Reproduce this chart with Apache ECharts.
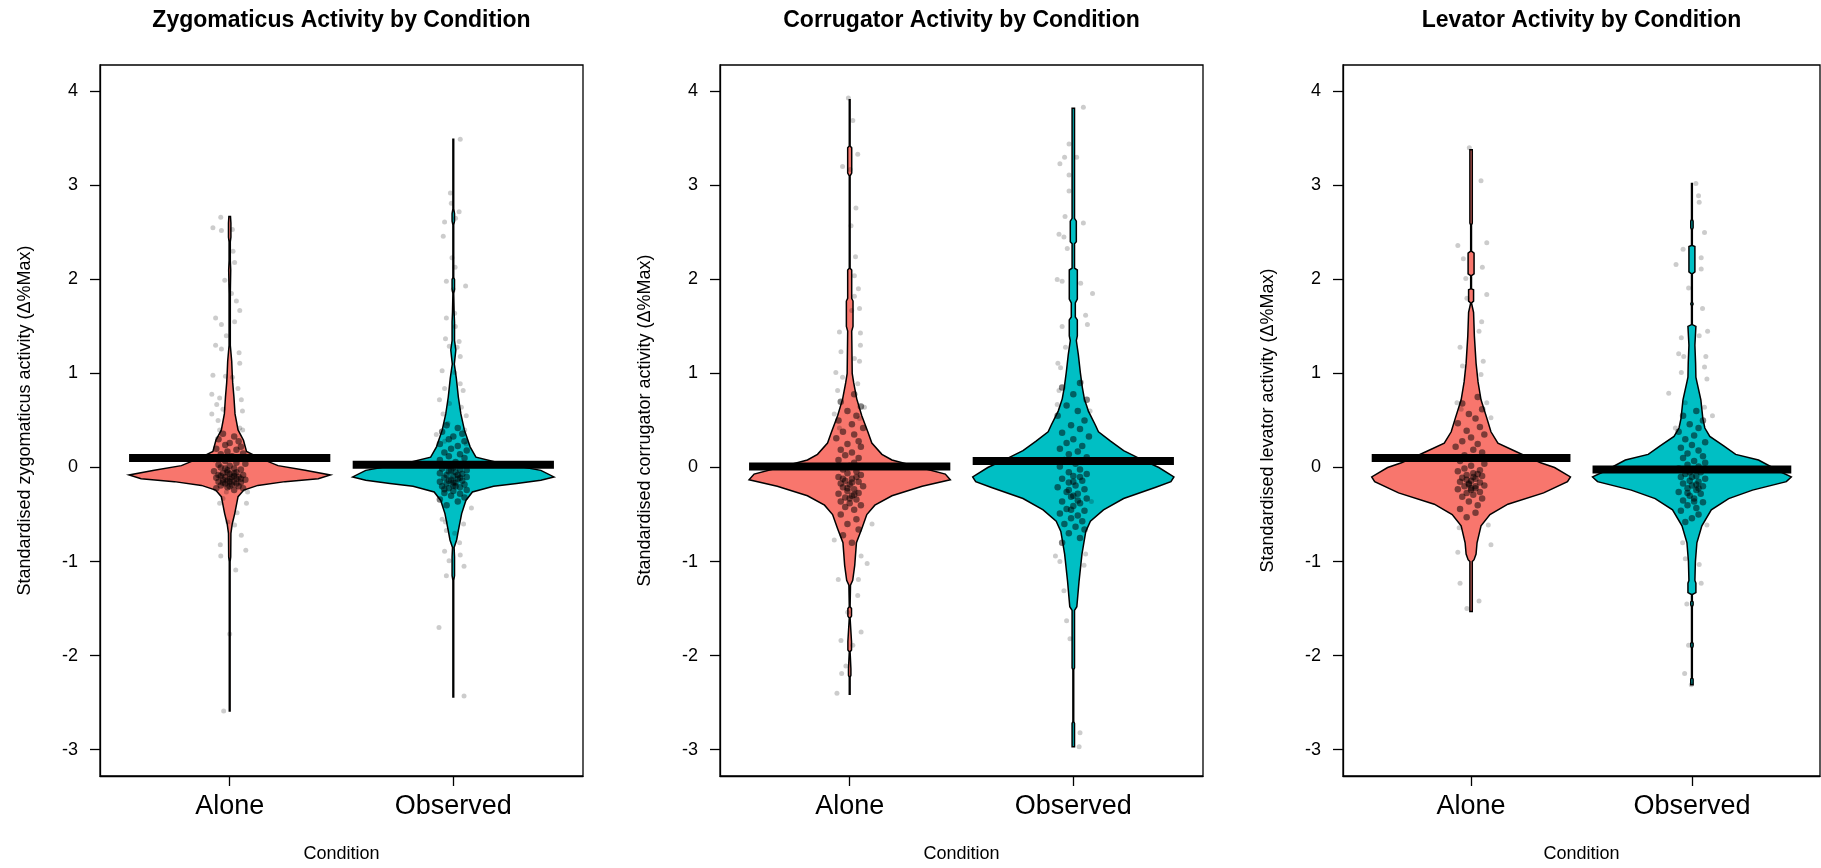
<!DOCTYPE html>
<html><head><meta charset="utf-8">
<script src="https://cdn.jsdelivr.net/npm/echarts@6/dist/echarts.min.js"></script>
<style>html,body{margin:0;padding:0;background:#fff}#c{width:1821px;height:868px}</style>
</head><body><div id="c"></div><script>
// ---------------- data ----------------
const categories = ['Alone', 'Observed'];
const panelTitles = ['Zygomaticus Activity by Condition', 'Corrugator Activity by Condition', 'Levator Activity by Condition'];
const yAxisNames = ['Standardised zygomaticus activity (\u0394%Max)', 'Standardised corrugator activity (\u0394%Max)', 'Standardised levator activity (\u0394%Max)'];
const xAxisName = 'Condition';
const yTicks = [-3, -2, -1, 0, 1, 2, 3, 4];
const xTicks = [1, 2];

// condition means (thick black bars)
const zygMeans = [0.10, 0.03];
const corrMeans = [0.01, 0.07];
const levMeans = [0.10, -0.02];

// bean density profiles: [y, relative half-width (1 = widest)]
const zygAloneBean = [[2.67,0.008],[2.6,0.012],[2.45,0.012],[2.4,0.006],[2.2,0.006],[2.1,0.01],[1.85,0.006],[1.3,0.006],[1.13,0.02],[1.0,0.025],[0.9,0.03],[0.75,0.042],[0.57,0.053],[0.4,0.083],[0.29,0.137],[0.17,0.167],[0.1,0.3],[0.02,0.48],[-0.03,0.75],[-0.08,1.0],[-0.12,0.88],[-0.15,0.55],[-0.19,0.28],[-0.24,0.14],[-0.31,0.083],[-0.49,0.05],[-0.6,0.025],[-0.7,0.012],[-0.95,0.01],[-1.0,0.004],[-2.59,0.004]];
const zygObsBean = [[3.49,0.004],[2.75,0.004],[2.7,0.012],[2.62,0.012],[2.58,0.004],[2.02,0.004],[2.0,0.012],[1.9,0.012],[1.85,0.004],[1.65,0.008],[1.55,0.012],[1.35,0.012],[1.25,0.025],[1.1,0.01],[0.95,0.03],[0.75,0.05],[0.57,0.075],[0.4,0.11],[0.22,0.167],[0.11,0.225],[0.05,0.45],[-0.03,0.87],[-0.1,1.0],[-0.135,0.87],[-0.17,0.63],[-0.2,0.4],[-0.26,0.19],[-0.35,0.125],[-0.49,0.083],[-0.67,0.05],[-0.77,0.033],[-0.85,0.008],[-0.95,0.012],[-1.15,0.012],[-1.2,0.004],[-2.44,0.004]];
const corrAloneBean = [[3.91,0.004],[3.42,0.004],[3.4,0.02],[3.13,0.02],[3.1,0.004],[2.12,0.004],[2.1,0.02],[1.8,0.02],[1.77,0.033],[1.5,0.033],[1.45,0.02],[1.0,0.025],[0.9,0.04],[0.73,0.07],[0.55,0.12],[0.38,0.18],[0.26,0.22],[0.14,0.32],[0.08,0.42],[0.0,0.7],[-0.07,0.95],[-0.13,1.0],[-0.2,0.72],[-0.3,0.42],[-0.4,0.25],[-0.5,0.17],[-0.65,0.12],[-0.8,0.067],[-1.04,0.05],[-1.2,0.03],[-1.25,0.008],[-1.48,0.004],[-1.5,0.018],[-1.58,0.018],[-1.6,0.004],[-1.85,0.018],[-1.94,0.018],[-1.96,0.004],[-2.14,0.012],[-2.21,0.012],[-2.23,0.004],[-2.41,0.004]];
const corrObsBean = [[3.82,0.012],[2.65,0.012],[2.62,0.03],[2.4,0.03],[2.38,0.012],[2.12,0.012],[2.1,0.04],[1.79,0.04],[1.75,0.02],[1.6,0.02],[1.57,0.04],[1.4,0.04],[1.35,0.03],[1.2,0.05],[1.01,0.07],[0.85,0.09],[0.73,0.11],[0.6,0.15],[0.45,0.22],[0.38,0.25],[0.28,0.37],[0.18,0.5],[0.1,0.65],[0.0,0.85],[-0.1,1.0],[-0.15,0.97],[-0.21,0.82],[-0.33,0.5],[-0.45,0.3],[-0.57,0.17],[-0.68,0.124],[-0.92,0.086],[-1.21,0.057],[-1.48,0.035],[-1.52,0.012],[-2.13,0.012],[-2.15,0.004],[-2.7,0.004],[-2.72,0.012],[-2.97,0.012]];
const levAloneBean = [[3.38,0.012],[2.6,0.012],[2.58,0.004],[2.3,0.004],[2.28,0.03],[2.06,0.03],[2.04,0.004],[1.9,0.004],[1.89,0.025],[1.77,0.025],[1.75,0.004],[1.65,0.025],[1.4,0.033],[1.11,0.05],[0.91,0.07],[0.72,0.1],[0.52,0.16],[0.38,0.2],[0.26,0.27],[0.17,0.45],[0.05,0.7],[0.0,0.84],[-0.1,1.0],[-0.15,0.97],[-0.27,0.73],[-0.39,0.37],[-0.5,0.19],[-0.62,0.1],[-0.8,0.06],[-0.92,0.05],[-0.98,0.03],[-1.0,0.012],[-1.53,0.012]];
const levObsBean = [[3.02,0.004],[2.64,0.004],[2.62,0.012],[2.55,0.012],[2.53,0.004],[2.36,0.004],[2.35,0.03],[2.08,0.03],[2.06,0.004],[1.76,0.004],[1.74,0.012],[1.72,0.004],[1.52,0.004],[1.5,0.04],[1.3,0.03],[1.11,0.037],[0.96,0.04],[0.91,0.05],[0.72,0.09],[0.52,0.11],[0.42,0.13],[0.33,0.18],[0.23,0.32],[0.14,0.44],[0.08,0.67],[-0.05,0.9],[-0.1,1.0],[-0.15,0.95],[-0.24,0.61],[-0.33,0.37],[-0.45,0.195],[-0.62,0.1],[-0.8,0.05],[-1.0,0.035],[-1.2,0.03],[-1.23,0.04],[-1.33,0.04],[-1.35,0.004],[-1.42,0.004],[-1.43,0.012],[-1.46,0.012],[-1.48,0.004],[-1.86,0.004],[-1.87,0.012],[-1.9,0.012],[-1.92,0.004],[-2.24,0.004],[-2.25,0.012],[-2.31,0.012]];

// raw observations: [horizontal jitter (category units), value]
// sparse tail observations
const zygAloneTail = [[-0.04,2.66],[-0.075,2.55],[-0.037,2.52],[0.012,2.53],[0.015,2.30],[0.022,2.18],[-0.022,1.99],[0.008,1.85],[0.03,1.77],[0.045,1.67],[-0.063,1.59],[-0.037,1.52],[0.022,1.55],[-0.015,1.40],[-0.063,1.30],[-0.037,1.26],[0.042,1.22],[0.045,1.11],[-0.075,0.98],[-0.019,0.97],[0.012,0.96],[0.037,0.84],[-0.08,0.78],[-0.045,0.74],[0.052,0.72],[-0.058,0.67],[-0.03,0.62],[-0.08,0.57],[0.057,0.60],[-0.052,0.50],[0.045,0.42],[-0.045,0.40],[0.058,0.40],[-0.015,-0.26],[-0.03,-0.33],[0.08,-0.26],[-0.045,-0.38],[0.075,-0.38],[0.033,-0.48],[-0.008,-0.58],[0.022,-0.61],[0.052,-0.72],[-0.042,-0.82],[0.072,-0.88],[-0.04,-0.94],[0.027,-1.09],[0.0,-1.77],[-0.027,-2.59]];
const zygObsTail = [[0.031,3.49],[-0.013,2.92],[-0.009,2.81],[0.026,2.72],[-0.039,2.61],[-0.045,2.46],[0.01,2.65],[-0.006,2.23],[0.008,2.13],[-0.031,1.98],[0.055,1.93],[0.0,1.89],[0.006,1.64],[-0.031,1.59],[0.009,1.5],[-0.035,1.37],[0.026,1.34],[-0.018,1.29],[0.017,1.28],[0.031,1.18],[-0.05,1.03],[0.006,1.01],[0.031,0.89],[-0.039,0.84],[0.044,0.82],[-0.062,0.72],[-0.017,0.68],[0.036,0.64],[-0.046,0.57],[0.058,0.55],[-0.024,0.47],[0.051,0.4],[-0.076,0.35],[-0.039,0.28],[0.058,0.25],[0.081,-0.43],[-0.05,-0.55],[-0.035,-0.58],[0.046,-0.6],[-0.031,-0.67],[0.006,-0.7],[0.028,-0.8],[-0.039,-0.89],[0.031,-0.93],[-0.019,-0.99],[0.048,-1.05],[-0.031,-1.15],[-0.064,-1.70],[0.048,-2.43]];
const corrAloneTail = [[-0.006,3.93],[0.014,3.69],[0.036,3.33],[-0.032,3.2],[0.003,3.17],[0.028,2.76],[0.006,2.57],[0.026,2.24],[0.021,2.04],[0.039,1.9],[0.021,1.82],[0.044,1.69],[0.009,1.67],[-0.046,1.44],[0.048,1.43],[-0.039,1.23],[0.048,1.3],[0.021,1.16],[0.044,1.13],[-0.062,1.01],[-0.032,0.96],[0.036,0.89],[-0.054,0.82],[0.066,0.64],[-0.069,0.57],[0.044,0.52],[-0.046,0.42],[0.028,-0.26],[0.1,-0.6],[-0.069,-0.77],[0.051,-0.94],[0.078,-1.02],[-0.051,-1.19],[0.039,-1.19],[0.036,-1.36],[-0.009,-1.54],[0.051,-1.75],[-0.039,-1.84],[0.014,-1.89],[-0.017,-2.11],[-0.036,-2.19],[-0.057,-2.4]];
const corrObsTail = [[0.045,3.83],[-0.019,3.44],[-0.039,3.30],[-0.06,3.23],[0.015,3.30],[-0.019,3.11],[-0.019,2.94],[-0.037,2.67],[-0.064,2.48],[-0.042,2.45],[0.045,2.6],[-0.027,2.33],[-0.072,2.0],[-0.05,1.98],[0.033,1.96],[0.086,1.85],[0.055,1.62],[0.063,1.52],[-0.05,1.5],[-0.035,1.28],[-0.069,1.11],[-0.057,1.06],[0.036,0.91],[-0.064,0.82],[0.075,0.6],[-0.072,0.67],[0.081,-0.36],[-0.08,-0.94],[-0.06,-1.0],[0.055,-0.92],[0.048,-1.04],[-0.042,-1.31],[-0.03,-1.63],[-0.015,-1.82],[0.03,-2.82],[0.026,-2.97]];
const levAloneTail = [[-0.008,3.40],[0.045,3.05],[-0.06,2.36],[0.071,2.39],[-0.035,2.22],[0.051,2.13],[-0.024,2.01],[0.071,1.84],[-0.019,1.80],[0.048,1.55],[0.036,1.45],[-0.05,1.28],[0.055,1.13],[-0.039,1.08],[0.045,0.99],[-0.064,0.69],[0.071,0.69],[0.09,0.53],[-0.045,0.62],[0.078,-0.61],[-0.054,-0.64],[0.09,-0.82],[-0.06,-0.9],[-0.05,-1.23],[0.036,-1.42],[-0.019,-1.5]];
const levObsTail = [[0.018,3.02],[0.03,2.89],[0.033,2.82],[0.057,2.50],[-0.04,2.32],[-0.072,2.16],[0.042,2.23],[0.042,2.11],[-0.015,1.91],[0.048,1.69],[0.071,1.45],[-0.048,1.38],[0.033,1.40],[-0.06,1.21],[-0.037,1.18],[0.063,1.18],[-0.048,1.01],[0.057,1.07],[-0.105,0.79],[0.068,0.94],[-0.03,0.69],[0.093,0.55],[0.057,0.64],[-0.075,0.42],[0.068,-0.61],[-0.042,-0.8],[-0.03,-0.97],[0.033,-1.03],[0.042,-1.23],[-0.023,-1.45],[-0.015,-1.89],[-0.033,-2.19],[-0.003,-2.31]];
// dense central observations
const zygAloneCore = [[-0.03,0.36],[0.02,0.33],[-0.05,0.30],[0.04,0.28],[0.0,0.26],[-0.02,0.24],[0.05,0.22],[-0.06,0.2],[0.03,0.19],[-0.01,0.17],[0.06,0.15],[-0.04,0.14],[0.01,0.12],[0.04,0.1],[-0.07,0.09],[-0.02,0.07],[0.03,0.05],[0.07,0.04],[-0.05,0.03],[0.0,0.02],[-0.04,0.0],[0.02,-0.01],[0.05,-0.02],[-0.01,-0.03],[-0.07,-0.04],[0.03,-0.05],[-0.03,-0.06],[0.0,-0.07],[0.06,-0.08],[-0.05,-0.08],[0.02,-0.09],[-0.02,-0.1],[0.04,-0.1],[-0.06,-0.11],[0.0,-0.12],[0.03,-0.12],[-0.03,-0.13],[0.07,-0.13],[-0.01,-0.14],[0.02,-0.15],[-0.05,-0.15],[0.05,-0.16],[-0.02,-0.17],[0.01,-0.18],[-0.04,-0.19],[0.04,-0.2],[-0.01,-0.21],[0.06,-0.22],[-0.06,-0.22],[0.02,-0.24],[-0.01,-0.05],[0.01,-0.1],[-0.03,-0.16],[0.03,-0.17],[0.0,-0.2],[-0.02,-0.01],[0.02,-0.06],[-0.04,-0.09],[0.05,-0.12],[0.0,-0.15]];
const zygObsCore = [[-0.03,0.45],[0.02,0.42],[-0.05,0.38],[0.04,0.36],[0.0,0.33],[-0.02,0.3],[0.05,0.28],[-0.06,0.25],[0.02,0.23],[-0.01,0.2],[0.06,0.18],[-0.04,0.16],[0.03,0.14],[-0.02,0.12],[0.05,0.1],[-0.06,0.08],[0.01,0.06],[0.04,0.04],[-0.03,0.02],[0.0,0.0],[-0.05,-0.01],[0.03,-0.02],[0.06,-0.03],[-0.02,-0.04],[0.01,-0.05],[-0.06,-0.06],[0.04,-0.07],[-0.03,-0.08],[0.0,-0.09],[0.06,-0.1],[-0.04,-0.11],[0.02,-0.12],[-0.01,-0.13],[0.04,-0.14],[-0.06,-0.15],[0.01,-0.16],[-0.03,-0.17],[0.05,-0.18],[0.0,-0.19],[-0.05,-0.2],[0.03,-0.21],[-0.02,-0.22],[0.06,-0.24],[0.0,-0.25],[-0.04,-0.27],[0.03,-0.28],[-0.01,-0.3],[0.05,-0.32],[-0.06,-0.34],[0.02,-0.36],[-0.03,-0.4],[0.02,-0.08],[-0.02,-0.14],[0.01,-0.2],[-0.01,-0.03],[0.03,-0.11],[-0.04,-0.23],[0.0,-0.16]];
const corrAloneCore = [[0.02,0.78],[-0.04,0.7],[0.05,0.65],[-0.01,0.6],[0.03,0.55],[-0.05,0.5],[0.01,0.46],[0.06,0.42],[-0.03,0.38],[0.02,0.35],[-0.06,0.31],[0.04,0.28],[-0.01,0.25],[0.05,0.22],[-0.04,0.19],[0.01,0.16],[-0.02,0.13],[0.04,0.1],[-0.05,0.08],[0.02,0.05],[0.0,0.02],[-0.03,-0.02],[0.03,-0.04],[-0.01,-0.06],[0.05,-0.08],[-0.05,-0.1],[0.01,-0.12],[-0.02,-0.14],[0.04,-0.15],[-0.04,-0.17],[0.0,-0.18],[0.06,-0.2],[-0.03,-0.21],[0.02,-0.23],[-0.01,-0.25],[0.04,-0.27],[-0.05,-0.28],[0.01,-0.3],[-0.02,-0.32],[0.03,-0.34],[-0.04,-0.36],[0.0,-0.38],[0.05,-0.4],[-0.02,-0.42],[0.02,-0.45],[-0.04,-0.5],[0.03,-0.55],[-0.01,-0.6],[0.04,-0.66],[-0.03,-0.72],[0.01,-0.8],[0.01,-0.16],[-0.01,-0.22],[0.02,-0.29],[-0.03,-0.12],[0.0,-0.33],[0.03,-0.1]];
const corrObsCore = [[0.03,0.9],[-0.05,0.85],[0.0,0.78],[0.06,0.72],[-0.03,0.66],[0.02,0.6],[-0.07,0.55],[0.05,0.5],[-0.01,0.45],[0.03,0.41],[-0.05,0.37],[0.07,0.33],[0.0,0.3],[-0.03,0.26],[0.04,0.23],[-0.06,0.2],[0.02,0.17],[-0.02,0.14],[0.06,0.11],[-0.04,0.08],[0.01,0.04],[-0.06,0.01],[0.03,-0.02],[-0.02,-0.05],[0.06,-0.07],[0.0,-0.09],[-0.05,-0.12],[0.04,-0.14],[-0.02,-0.16],[0.01,-0.19],[-0.07,-0.21],[0.05,-0.23],[-0.03,-0.26],[0.02,-0.28],[-0.01,-0.31],[0.06,-0.33],[-0.05,-0.36],[0.03,-0.38],[0.0,-0.41],[-0.03,-0.44],[0.05,-0.46],[-0.06,-0.49],[0.02,-0.51],[-0.01,-0.54],[0.04,-0.57],[-0.04,-0.6],[0.01,-0.63],[0.05,-0.66],[-0.02,-0.7],[0.03,-0.75],[-0.05,-0.8],[0.0,-0.15],[-0.02,-0.24],[0.02,-0.35],[-0.01,-0.45],[0.03,-0.1],[0.0,-0.3]];
const levAloneCore = [[0.03,0.75],[-0.04,0.68],[0.05,0.62],[-0.01,0.57],[0.02,0.52],[-0.06,0.47],[0.04,0.43],[-0.02,0.39],[0.06,0.35],[0.0,0.32],[-0.04,0.28],[0.03,0.25],[-0.07,0.22],[0.01,0.19],[0.05,0.16],[-0.03,0.13],[0.02,0.1],[-0.05,0.07],[0.06,0.04],[0.0,0.02],[-0.03,-0.01],[0.04,-0.03],[-0.06,-0.04],[0.01,-0.06],[-0.02,-0.08],[0.05,-0.09],[-0.04,-0.11],[0.02,-0.12],[0.0,-0.14],[-0.05,-0.15],[0.04,-0.16],[-0.01,-0.18],[0.06,-0.19],[-0.03,-0.2],[0.02,-0.22],[-0.06,-0.23],[0.0,-0.24],[0.04,-0.26],[-0.02,-0.27],[0.01,-0.29],[-0.04,-0.31],[0.05,-0.33],[-0.01,-0.36],[0.03,-0.4],[-0.05,-0.44],[0.02,-0.48],[-0.02,-0.53],[0.01,-0.1],[-0.01,-0.17],[0.02,-0.2],[-0.02,-0.13],[0.0,-0.22],[0.03,-0.07]];
const levObsCore = [[0.02,0.6],[-0.04,0.55],[0.05,0.5],[-0.01,0.46],[0.03,0.42],[-0.06,0.38],[0.01,0.34],[-0.03,0.3],[0.06,0.27],[0.0,0.24],[-0.05,0.21],[0.03,0.18],[-0.02,0.15],[0.05,0.12],[-0.04,0.1],[0.01,0.07],[0.06,0.05],[-0.02,0.03],[0.03,0.01],[-0.06,-0.01],[0.0,-0.03],[0.04,-0.05],[-0.03,-0.07],[0.02,-0.09],[-0.05,-0.1],[0.06,-0.12],[-0.01,-0.14],[0.03,-0.15],[-0.04,-0.17],[0.0,-0.19],[0.05,-0.2],[-0.02,-0.22],[0.02,-0.24],[-0.06,-0.26],[0.04,-0.28],[-0.01,-0.3],[0.01,-0.33],[-0.04,-0.35],[0.05,-0.37],[-0.02,-0.4],[0.02,-0.43],[-0.05,-0.46],[0.03,-0.5],[0.0,-0.54],[-0.03,-0.58],[0.0,-0.1],[0.02,-0.18],[-0.02,-0.27],[0.01,-0.36],[-0.01,-0.05],[0.03,-0.22]];

// ---------------- layout / style ----------------
const FONT = '"Liberation Sans", Arial, sans-serif';
const beanColors = ['#F8766D', '#00BFC4'];
const BEAN_HALF = 0.45;
const gridLefts = [100, 720, 1343];
const gridWidths = [483, 483, 477];
const GRID_TOP = 65, GRID_H = 711;

const panels = [
  {beans: [zygAloneBean, zygObsBean], tail: [zygAloneTail, zygObsTail], core: [zygAloneCore, zygObsCore], means: zygMeans},
  {beans: [corrAloneBean, corrObsBean], tail: [corrAloneTail, corrObsTail], core: [corrAloneCore, corrObsCore], means: corrMeans},
  {beans: [levAloneBean, levObsBean], tail: [levAloneTail, levObsTail], core: [levAloneCore, levObsCore], means: levMeans}
];

const grids = [], xAxes = [], yAxes = [], series = [], graphics = [];
panels.forEach((p, k) => {
  grids.push({left: gridLefts[k], top: GRID_TOP, width: gridWidths[k], height: GRID_H,
    show: true, borderColor: '#000', borderWidth: 1.3, backgroundColor: 'transparent'});
  xAxes.push({type: 'value', gridIndex: k, min: 0.42, max: 2.58,
    axisLine: {show: true, onZero: false, lineStyle: {color: '#000', width: 1.3}},
    axisTick: {show: true, length: 10, customValues: xTicks, lineStyle: {color: '#000', width: 1.3}},
    axisLabel: {show: true, customValues: xTicks, margin: 17, fontSize: 27, fontFamily: FONT, color: '#000',
      formatter: v => categories[Math.round(v) - 1] || ''},
    splitLine: {show: false}});
  yAxes.push({type: 'value', gridIndex: k, min: -3.28, max: 4.28,
    axisLine: {show: true, onZero: false, lineStyle: {color: '#000', width: 1.3}},
    axisTick: {show: true, length: 10, customValues: yTicks, lineStyle: {color: '#000', width: 1.3}},
    axisLabel: {show: true, customValues: yTicks, margin: 22, fontSize: 18, fontFamily: FONT, color: '#000',
      formatter: v => String(v)},
    splitLine: {show: false}});

  // beans
  series.push({type: 'custom', xAxisIndex: k, yAxisIndex: k, z: 2, silent: true, clip: false,
    data: p.beans.map((b, i) => [i + 1, p.means[i]]),
    renderItem: (params, api) => {
      const prof = p.beans[params.dataIndex];
      const c = params.dataIndex + 1;
      const left = prof.map(([y, w]) => api.coord([c - w * BEAN_HALF, y]));
      const right = prof.slice().reverse().map(([y, w]) => api.coord([c + w * BEAN_HALF, y]));
      return {type: 'polygon', shape: {points: left.concat(right)},
        style: {fill: beanColors[params.dataIndex], stroke: '#000', lineWidth: 1.5}};
    }});
  // raw points
  p.tail.forEach((arr, i) => {
    series.push({type: 'scatter', xAxisIndex: k, yAxisIndex: k, z: 3, silent: true,
      symbol: 'circle', symbolSize: 5, itemStyle: {color: 'rgba(0,0,0,0.25)'},
      data: arr.map(([dx, y]) => [i + 1 + dx, y])});
  });
  p.core.forEach((arr, i) => {
    series.push({type: 'scatter', xAxisIndex: k, yAxisIndex: k, z: 3, silent: true,
      symbol: 'circle', symbolSize: 6.5, itemStyle: {color: 'rgba(0,0,0,0.62)'},
      data: arr.map(([dx, y]) => [i + 1 + dx, y])});
  });
  // mean bars
  series.push({type: 'custom', xAxisIndex: k, yAxisIndex: k, z: 4, silent: true, clip: false,
    data: p.means.map((m, i) => [i + 1, m]),
    renderItem: (params, api) => {
      const c = api.value(0), m = api.value(1);
      const a = api.coord([c - BEAN_HALF, m]), b = api.coord([c + BEAN_HALF, m]);
      return {type: 'line', shape: {x1: a[0], y1: a[1], x2: b[0], y2: b[1]},
        style: {stroke: '#000', lineWidth: 8, lineCap: 'butt'}};
    }});

  const cx = gridLefts[k] + gridWidths[k] / 2;
  graphics.push({type: 'text', x: cx, y: 21, style: {text: panelTitles[k], font: 'bold 23px ' + FONT,
    fill: '#000', textAlign: 'center', textVerticalAlign: 'middle'}});
  graphics.push({type: 'text', x: cx, y: 854,
    style: {text: xAxisName, font: '18px ' + FONT, fill: '#000', textAlign: 'center', textVerticalAlign: 'middle'}});
  graphics.push({type: 'text', x: gridLefts[k] - 75, y: GRID_TOP + GRID_H / 2, rotation: Math.PI / 2,
    style: {text: yAxisNames[k], font: '18px ' + FONT, fill: '#000', textAlign: 'center', textVerticalAlign: 'middle'}});
});

const chart = echarts.init(document.getElementById('c'), null, {renderer: 'canvas'});
chart.setOption({animation: false, backgroundColor: '#fff', grid: grids, xAxis: xAxes, yAxis: yAxes,
  series: series, graphic: graphics});
</script></body></html>
